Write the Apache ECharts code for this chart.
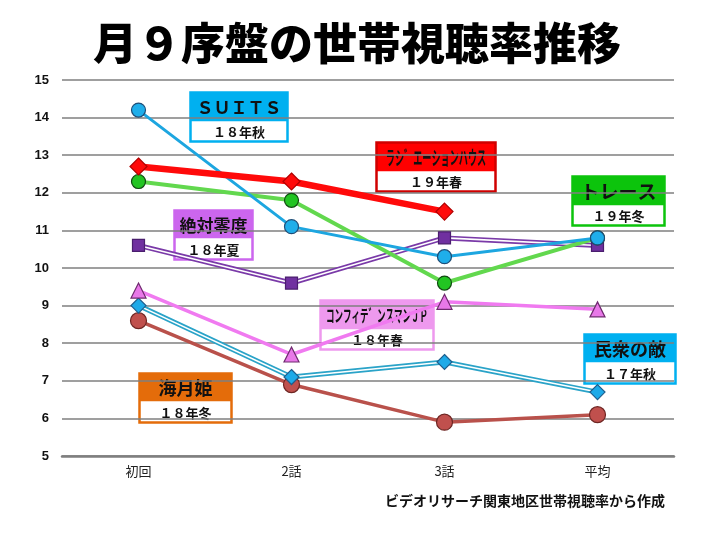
<!DOCTYPE html>
<html><head><meta charset="utf-8">
<script src="https://cdn.jsdelivr.net/npm/echarts@6/dist/echarts.min.js"></script>
<style>html,body{margin:0;padding:0;background:#fff}#c{width:714px;height:536px}</style>
</head><body><div id="c"></div>
<script>
const categories = ['初回', '2話', '3話', '平均'];
const suits = [14.2, 11.1, 10.3, 10.8];
const radiation = [12.7, 12.3, 11.5, null];
const trace = [12.3, 11.8, 9.6, 10.8];
const zettai = [10.6, 9.6, 10.8, 10.6];
const confidence = [9.4, 7.7, 9.1, 8.9];
const minshu = [9.0, 7.1, 7.5, 6.7];
const kurage = [8.6, 6.9, 5.9, 6.1];
const yTicks = [5, 15, 1];

const JP = '"Noto Sans CJK JP","Noto Sans",sans-serif';
const chart = echarts.init(document.getElementById('c'));

function box(x, y, w, h1, h2, color, title, sub, tsize, border, sx) {
  return {
    type: 'group', left: x, top: y, z: 50,
    children: [
      {type: 'rect', shape: {x: 0, y: 0, width: w, height: h1}, style: {fill: color}},
      {type: 'rect', shape: {x: 0, y: h1, width: w, height: h2}, style: {fill: '#fff'}},
      {type: 'rect', shape: {x: 0, y: 0, width: w, height: h1 + h2}, style: {fill: 'none', stroke: border || color, lineWidth: 2.5}},
      {type: 'text', x: w / 2, y: h1 / 2 + 1, scaleX: sx || 1,
        style: {text: title, fill: '#111', font: 'bold ' + tsize + 'px ' + JP, align: 'center', verticalAlign: 'middle'}},
      {type: 'text', x: w / 2, y: h1 + h2 / 2 + 1,
        style: {text: sub, fill: '#111', font: 'bold 13px ' + JP, align: 'center', verticalAlign: 'middle'}}
    ]
  };
}

function lineS(name, data, color, width, z) {
  return {name, type: 'line', data, showSymbol: false, symbol: 'none', z: z,
    lineStyle: {color, width}, itemStyle: {color}, silent: true, animation: false, connectNulls: false};
}
function symS(name, data, symbol, size, fill, border, z) {
  return {name, type: 'line', data, symbol, symbolSize: size, showSymbol: true, z: z,
    lineStyle: {width: 0, opacity: 0}, itemStyle: {color: fill, borderColor: border, borderWidth: 1.2, opacity: 1}, animation: false};
}

const series = [
  lineS('海月姫', kurage, '#B9514B', 3.5, 2),
  lineS('民衆の敵', minshu, '#2AA3C8', 5, 2),
  lineS('民衆の敵w', minshu, '#ffffff', 1.6, 3),
  lineS('コンフィデンスマンJP', confidence, '#F07AF0', 3.5, 2),
  lineS('絶対零度', zettai, '#7A3AA8', 5, 2),
  lineS('絶対零度w', zettai, '#ffffff', 1.6, 3),
  lineS('トレース', trace, '#62D84E', 4, 4),
  lineS('SUITS', suits, '#1DA6E0', 3, 4),
  lineS('ラジエーションハウス', radiation, '#FF0A0A', 6.5, 4),
  symS('海月姫s', kurage, 'circle', 16, '#C0504D', '#6E2623', 10),
  symS('民衆の敵s', minshu, 'diamond', 15, '#1EAAE8', '#1F5E8C', 10),
  symS('コンフィデンスマンJPs', confidence, 'triangle', 15, '#E878E8', '#6E2A6E', 10),
  symS('絶対零度s', zettai, 'rect', 12, '#7030A0', '#4A1E6E', 10),
  symS('トレースs', trace, 'circle', 14, '#22C422', '#124A12', 10),
  symS('SUITSs', suits, 'circle', 14, '#1FAEEA', '#1E4E78', 10),
  symS('ラジエーションハウスs', radiation, 'diamond', 17, '#FF0A0A', '#B00000', 10)
];

chart.setOption({
  backgroundColor: '#fff',
  animation: false,
  grid: {left: 62, right: 40, top: 80, bottom: 80},
  title: {text: '月９序盤の世帯視聴率推移', left: 'center', top: 16,
    textStyle: {fontFamily: JP, fontWeight: 900, fontSize: 44, color: '#000'}},
  xAxis: {type: 'category', data: categories, boundaryGap: true,
    axisLine: {lineStyle: {color: '#7f7f7f', width: 2.5}}, axisTick: {show: false},
    axisLabel: {color: '#222', fontSize: 13, fontFamily: JP, margin: 9}},
  yAxis: {type: 'value', min: yTicks[0], max: yTicks[1], interval: yTicks[2],
    axisLine: {show: false}, axisTick: {show: false},
    axisLabel: {color: '#111', fontSize: 13, fontWeight: 'bold', fontFamily: '"Liberation Sans",Arial,sans-serif', margin: 13},
    splitLine: {lineStyle: {color: '#7f7f7f', width: 1.6}}},
  series,
  graphic: [
    box(188, 90, 97, 29, 20, '#00B0F0', 'ＳＵＩＴＳ', '１８年秋', 17),
    box(374, 140, 119, 29, 20, '#FF0000', 'ラシ゛エーションハウス', '１９年春', 19, '#D00000', 0.48),
    box(570, 174, 92, 29, 20, '#0CC40C', 'トレース', '１９年冬', 19),
    box(172, 208, 78, 28, 21, '#CC66EE', '絶対零度', '１８年夏', 17),
    box(318, 298, 113, 29, 20, '#EE99EE', 'コンフィテ゛ンスマンＪＰ', '１８年春', 17, '#EE99EE', 0.5),
    box(582, 332, 91, 28, 21, '#00B0F0', '民衆の敵', '１７年秋', 18),
    box(137, 371, 92, 28, 21, '#E46C0A', '海月姫', '１８年冬', 18),
    {type: 'text', right: 49, top: 494, z: 50,
      style: {text: 'ビデオリサーチ関東地区世帯視聴率から作成', fill: '#111', font: 'bold 14px ' + JP}}
  ]
});
</script></body></html>
